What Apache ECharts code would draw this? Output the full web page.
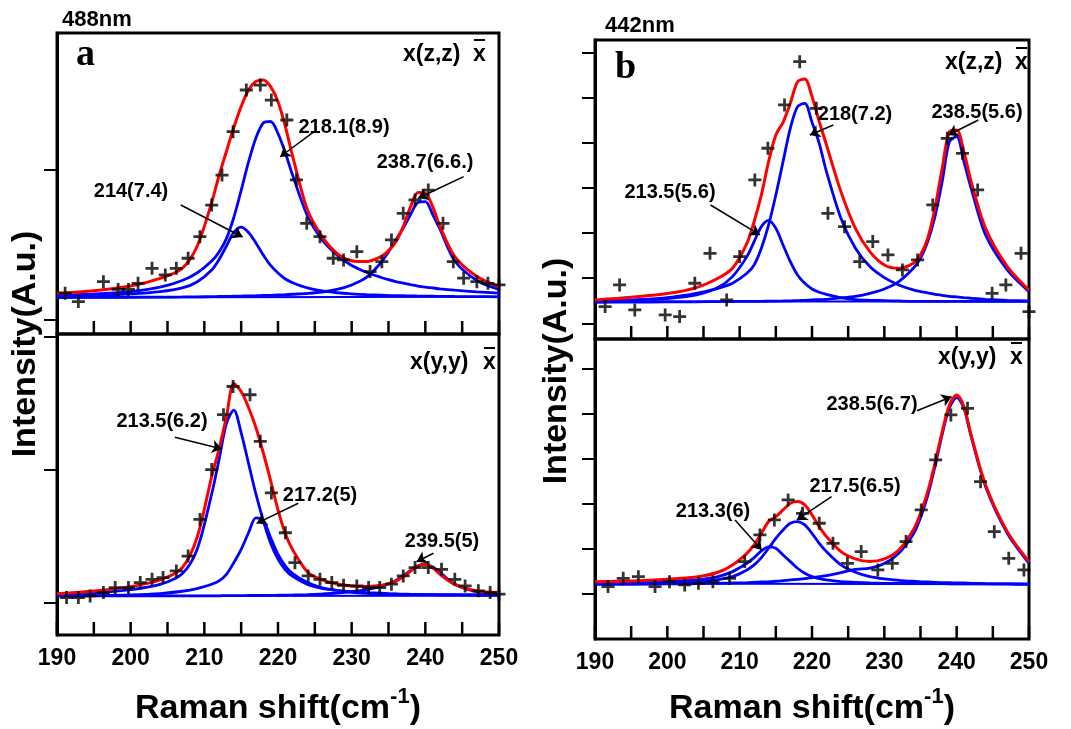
<!DOCTYPE html>
<html>
<head>
<meta charset="utf-8">
<script src="https://cdn.jsdelivr.net/npm/echarts@6/dist/echarts.min.js"></script>
<style>
html, body { margin: 0; padding: 0; background: #fff; }
#chart { width: 1071px; height: 729px; }
</style>
</head>
<body>
<div id="chart"></div>
<script>
const fitX = [190, 195, 200, 204, 207, 209, 211, 212, 213, 214, 215, 216, 217, 218, 219, 220, 221, 222,
  224, 226, 228, 230, 232, 234, 235, 236, 237, 238, 239, 240, 241, 242, 244, 247, 250];
const baseX = [190, 250];
const xTickVals = [190, 195, 200, 205, 210, 215, 220, 225, 230, 235, 240, 245, 250];

// ---- 488nm, x(z,z)x
const aTopPtsX = [191.1, 192.9, 196.3, 198.3, 199.7, 201.0, 202.9, 204.7, 206.2, 207.8, 209.4, 211.0, 212.4, 213.9,
  215.7, 217.6, 219.1, 221.2, 222.5, 223.9, 225.7, 227.5, 228.9, 230.7, 232.5, 234.1, 235.4, 237.0, 238.6, 240.4,
  242.4, 243.8, 245.2, 247.0, 248.5, 250.0];
const aTopPtsY = [17.5, 11.9, 25.2, 20, 20, 24.1, 34.1, 29.7, 34.1, 40.8, 55.2, 76.3, 96.3, 125.2, 153, 156.3, 146.3,
  133, 93, 64.1, 55.2, 40.8, 39.7, 45.2, 31.9, 38.5, 53, 70.8, 79.7, 86.3, 64.1, 38.5, 27.5, 25.2, 24.1, 23];
const aTopSum = [17.4, 19.2, 22.3, 27.4, 34.1, 48.6, 78, 96, 112, 128, 142, 153, 158.6, 159.7, 155.2, 145.2, 128.6, 108.6,
  73, 55.2, 44.1, 39.2, 38.6, 41.9, 45.9, 51.9, 61.9, 75.2, 84.6, 84.1, 75.2, 61.9, 41.9, 28.6, 21.9];
const aTop218 = [16, 17, 18.5, 21.5, 26, 31, 39, 45, 54, 68, 86, 105, 121, 131, 132, 124, 111, 96,
  69, 53, 43, 36, 31.5, 28, 26.5, 25.2, 24.2, 23.2, 22.3, 21.6, 21, 20.4, 19.5, 18.4, 17.6];
const aTop214 = [15.5, 16, 17, 18.5, 21, 25, 33, 40, 49, 58, 61.5, 58, 51, 43, 36, 31, 27, 24.5,
  21, 19, 17.8, 17, 16.5, 16.2, 16, 15.9, 15.8, 15.7, 15.6, 15.5, 15.5, 15.4, 15.3, 15.2, 15.1];
const aTop239 = [14.6, 14.7, 14.8, 14.9, 15, 15.1, 15.2, 15.3, 15.4, 15.5, 15.6, 15.7, 15.8, 16, 16.1, 16.3, 16.5, 16.8,
  17.4, 18.3, 20, 23, 28, 38, 45, 53, 61, 70, 78, 78.5, 70, 60, 39, 26, 20];
const aTopBase = [14.6, 15.1];
const aTopTicks = [0, 100];

// ---- 488nm, x(y,y)x
const aBotPtsX = [191.3, 192.9, 194.5, 196.3, 197.9, 199.7, 201.3, 202.9, 204.4, 206.2, 207.8, 209.4, 211.0, 212.6,
  213.9, 216.2, 217.6, 219.1, 221.0, 222.3, 224.1, 225.7, 227.3, 228.9, 230.7, 232.3, 233.8, 235.4, 237.0, 238.6,
  240.4, 242.2, 244.0, 245.4, 247.2, 248.8, 250.0];
const aBotPtsY = [4.05, 4.05, 5.3, 7.8, 11.6, 11.6, 15.3, 17.8, 19.1, 24.1, 35.3, 62.8, 100.3, 141.6, 162.8, 156.6,
  121.6, 82.8, 52.8, 30.3, 20.3, 17.8, 15.3, 13.3, 12.8, 11.6, 11.6, 14.1, 20.3, 26.6, 26.6, 25.3, 17.8, 12.8, 9.1,
  7.8, 6.6];
const aBotSum = [7, 9, 12.3, 17.3, 26.5, 49, 95, 116, 140, 165, 159, 147, 132, 113, 92, 70, 52, 39.8,
  23.3, 17.3, 14.3, 12.8, 12.3, 13.3, 14.5, 16.5, 19.8, 24, 27.8, 29, 26.5, 21.5, 14, 9, 7.8];
const aBot213 = [6, 7.5, 10, 14, 22, 40, 82, 108, 135, 145, 128, 105, 82, 62, 45, 33, 25, 20,
  14, 11, 9.5, 8.5, 7.8, 7.3, 7, 6.8, 6.6, 6.5, 6.4, 6.3, 6.3, 6.2, 6.2, 6.1, 6.1];
const aBot217 = [5.3, 5.55, 6.05, 7.05, 8.8, 10.8, 14.05, 16.55, 21.55, 30.3, 40.3, 52.8, 64.05, 62.3, 49.05, 36.55,
  27.8, 22.05, 15.3, 11.3, 9.3, 8.05, 7.3, 6.8, 6.55, 6.55, 6.3, 6.3, 6.3, 6.2, 6.2, 6.1, 6.1, 6, 6];
const aBot239 = [5.3, 5.3, 5.3, 5.3, 5.3, 5.4, 5.4, 5.4, 5.5, 5.5, 5.5, 5.6, 5.6, 5.7, 5.7, 5.8, 5.9, 6,
  6.3, 6.8, 7.5, 8.5, 10, 12.5, 14.5, 17, 20.5, 24.5, 28, 29, 27, 23, 14, 8.3, 6.5];
const aBotBase = [5.3, 5.5];
const aBotTicks = [0, 100, 200];

// ---- 442nm, x(z,z)x
const bTopPtsX = [191.4, 193.4, 195.5, 199.7, 201.7, 203.8, 205.9, 208.2, 210.0, 212.1, 213.9, 216.2, 218.3, 220.6,
  222.2, 224.5, 226.6, 228.4, 230.5, 232.5, 234.6, 236.7, 238.7, 240.8, 242.9, 244.9, 246.8, 248.9, 250.0];
const bTopPtsY = [36.9, 84.9, 29.5, 18.5, 14.8, 88.6, 155, 51.7, 147.6, 317.3, 387.5, 483.4, 579.3, 476, 243.5, 214,
  136.5, 180.8, 151.3, 118.1, 140.2, 262, 409.6, 376.4, 295.2, 66.4, 84.9, 155, 26];
const bTopSum = [51.7, 57.6, 65.7, 79, 99.6, 121.8, 177.1, 225.1, 284.1, 357.9, 417, 445, 487.1, 535, 541, 502, 446.5,
  394.8, 291.5, 210.3, 158.7, 129.2, 121.8, 132.8, 151.3, 188.2, 254.6, 343.2, 424.4, 428, 380.1, 313.7, 210.3, 125.5,
  73.8];
const bTop218 = [48, 51.7, 56.8, 66.4, 77.5, 88.6, 110.7, 129.2, 166, 217.7, 284.1, 357.9, 431.7, 479.7, 487.1, 445,
  398.5, 335.8, 232.5, 166, 125.5, 101.1, 84.9, 73.8, 70.1, 67.2, 64.2, 62, 59.8, 58.3, 56.8, 55.4, 53.1, 50.9, 49.4];
const bTop213 = [48.7, 50.9, 54.6, 62.7, 79, 103.3, 147.6, 180.8, 214, 228, 210.3, 173.4, 136.5, 107, 88.6, 76, 68.6,
  64.2, 56.8, 52.4, 50.9, 50.2, 49.4, 48.7, 48.7, 48.6, 48.6, 48.5, 48.5, 48.5, 48.4, 48.4, 48.4, 48.3, 48.3];
const bTop238 = [46.5, 47, 47.2, 47.6, 48, 48.2, 48.5, 48.6, 48.7, 48.9, 49.1, 49.4, 49.8, 50.2, 50.9, 51.7, 52.4, 53.1,
  56.1, 59.8, 66.4, 76, 92.3, 121.8, 143.9, 180.8, 236.2, 313.7, 402.2, 413.3, 357.9, 298.9, 195.6, 118.1, 70.1];
const bTopBase = [48, 48];
const bTopTicks = [0, 100, 200, 300, 400, 500, 600];

// ---- 442nm, x(y,y)x
const bBotPtsX = [191.8, 193.9, 196.0, 198.3, 200.3, 202.4, 204.3, 206.3, 208.6, 210.7, 212.8, 214.8, 216.7, 218.7,
  221.0, 222.9, 224.9, 226.8, 229.1, 231.1, 233.0, 235.1, 237.1, 239.2, 241.5, 243.3, 245.2, 247.2, 249.3];
const bBotPtsY = [14.8, 33.3, 37, 14.8, 25.9, 18.5, 22.2, 25.9, 33.3, 70.4, 129.6, 163, 207.4, 177.8, 155.6, 111.1,
  66.7, 92.6, 51.9, 66.7, 114.8, 185.2, 296.3, 396.3, 411.1, 248.1, 137, 77.8, 51.9];
const bBotSum = [25.9, 27.4, 31.1, 36.3, 46.7, 63, 88.9, 107.4, 133.3, 159.3, 170.4, 185.2, 200, 203.7, 196.3, 174.1,
  148.1, 125.9, 92.6, 76.3, 70.4, 76.3, 96.3, 140.7, 177.8, 225.9, 288.9, 359.3, 418.5, 440.7, 414.8, 351.9, 240.7,
  137, 70.4];
const bBot213 = [22.2, 23.7, 25.9, 29.6, 37, 48.1, 66.7, 79.3, 94.1, 103, 100, 85.2, 70.4, 55.6, 44.4, 37, 32.6, 29.6,
  25.9, 24.4, 23, 22.2, 22, 21.8, 21.6, 21.5, 21.4, 21.3, 21.2, 21.1, 21, 20.9, 20.8, 20.7, 20.6];
const bBot217 = [21.5, 22.2, 23.7, 25.9, 30.4, 37, 51.9, 63, 79.3, 100, 122.2, 140.7, 155.6, 159.3, 151.9, 133.3, 111.1,
  92.6, 63, 46.7, 37, 31.9, 28.9, 26.7, 25.9, 25.2, 24.4, 23.7, 23.7, 23, 23, 22.2, 21.5, 20.7, 20];
const bBot238 = [20, 20, 20.7, 21.5, 22.2, 23, 23.7, 24.4, 25.2, 25.9, 26.7, 28.1, 29.6, 31.1, 32.6, 34.8, 37, 39.3,
  45.9, 53.3, 56, 66, 88.9, 131.1, 168.1, 217, 281.5, 353.3, 412.6, 434.8, 411.1, 348.1, 237, 133.3, 66.7];
const bBotBase = [22, 20];
const bBotTicks = [0, 100, 200, 300, 400, 500];

// peak labels and the arrows pointing at them, [from, to] in data units
const aTopNotes = ['214(7.4)', '218.1(8.9)', '238.7(6.6.)'];
const aTopArrows = [[[206.8, 76.3], [215.2, 55]], [[224.9, 125.2], [220.3, 108.5]], [[245.2, 95.2], [239.0, 80.8]]];
const aBotNotes = ['213.5(6.2)', '217.2(5)', '239.5(5)'];
const aBotArrows = [[[206.0, 124.6], [212.4, 115.8]], [[222.75, 75], [217.1, 59.9]], [[241.1, 37.4], [238.8, 31]]];
const bTopNotes = ['213.5(5.6)', '218(7.2)', '238.5(5.6)'];
const bTopArrows = [[[205.97, 261.9], [212.8, 195.5]], [[222.95, 439], [219.7, 416.9]], [[243, 450], [238.85, 416.9]]];
const bBotNotes = ['213.3(6)', '217.5(6.5)', '238.5(6.7)'];
const bBotArrows = [[[209.36, 162.9], [213.05, 96.2]], [[222.7, 214.7], [217.9, 162.9]], [[234.5, 405.8], [239.3, 436.9]]];

const RED = '#ff0000';
const BLUE = '#0000ff';
const FONT = '"Liberation Sans", Arial, sans-serif';
const PLUS = 'path://M-1.5,-7L1.5,-7L1.5,-1.5L7,-1.5L7,1.5L1.5,1.5L1.5,7L-1.5,7L-1.5,1.5L-7,1.5L-7,-1.5L-1.5,-1.5Z';

const pair = (xs, ys) => xs.map((x, i) => [x, ys[i]]);

const panels = [
  { grid: { left: 57, top: 33, width: 442, height: 301 }, ymin: -9.7, ymax: 191, ticks: aTopTicks, bottom: false,
    ptsX: aTopPtsX, ptsY: aTopPtsY, base: aTopBase, comps: [aTop218, aTop214, aTop239], sum: aTopSum, arrows: aTopArrows },
  { grid: { left: 57, top: 334, width: 442, height: 301 }, ymin: -24.1, ymax: 202.3, ticks: aBotTicks, bottom: true,
    ptsX: aBotPtsX, ptsY: aBotPtsY, base: aBotBase, comps: [aBot213, aBot217, aBot239], sum: aBotSum, arrows: aBotArrows },
  { grid: { left: 595, top: 40, width: 434, height: 299 }, ymin: -34.8, ymax: 627.2, ticks: bTopTicks, bottom: false,
    ptsX: bTopPtsX, ptsY: bTopPtsY, base: bTopBase, comps: [bTop218, bTop213, bTop238], sum: bTopSum, arrows: bTopArrows },
  { grid: { left: 595, top: 339, width: 434, height: 300 }, ymin: -101.6, ymax: 565.1, ticks: bBotTicks, bottom: true,
    ptsX: bBotPtsX, ptsY: bBotPtsY, base: bBotBase, comps: [bBot213, bBot217, bBot238], sum: bBotSum, arrows: bBotArrows }
];

const grids = [], xAxes = [], yAxes = [], series = [];
panels.forEach((p, i) => {
  grids.push(Object.assign({ show: true, borderColor: '#000', borderWidth: 3, backgroundColor: 'transparent',
    outerBoundsMode: 'none', containLabel: false }, p.grid));
  xAxes.push({
    gridIndex: i, type: 'value', min: 190, max: 250, interval: 5, position: 'bottom',
    axisLine: { show: false, onZero: false },
    axisTick: { show: false },
    axisLabel: { show: p.bottom, margin: 12, color: '#000', fontSize: 23, fontWeight: 'bold', fontFamily: FONT,
      showMinLabel: true, showMaxLabel: true, formatter: v => (v % 10 === 0 ? String(v) : '') },
    splitLine: { show: false }
  });
  yAxes.push({
    gridIndex: i, type: 'value', min: p.ymin, max: p.ymax, position: 'left',
    axisLine: { show: true, onZero: false, lineStyle: { color: '#000', width: 3 } },
    axisTick: { show: true, inside: false, length: 13, lineStyle: { color: '#000', width: 2 }, customValues: p.ticks },
    axisLabel: { show: false },
    splitLine: { show: false }
  });
  const common = { xAxisIndex: i, yAxisIndex: i, symbol: 'none', silent: true, animation: false };
  series.push(Object.assign({ type: 'line', data: pair(baseX, p.base), lineStyle: { color: BLUE, width: 2 }, z: 2 }, common));
  p.comps.forEach(c => {
    series.push(Object.assign({ type: 'line', data: pair(fitX, c), smooth: 0.3,
      lineStyle: { color: BLUE, width: 2.8 }, z: 3 }, common));
  });
  series.push(Object.assign({ type: 'line', data: pair(fitX, p.sum), smooth: 0.3,
    lineStyle: { color: RED, width: 3 }, z: 4,
    markLine: {
      silent: true, animation: false, symbol: ['none', 'arrow'], symbolSize: 10,
      label: { show: false }, lineStyle: { color: '#000', width: 1.5, type: 'solid' },
      data: p.arrows.map(a => [{ coord: a[0] }, { coord: a[1] }])
    } }, common));
  series.push({ type: 'scatter', xAxisIndex: i, yAxisIndex: i, data: pair(p.ptsX, p.ptsY), symbol: PLUS,
    symbolSize: 13, itemStyle: { color: '#000' }, silent: true, z: 5, animation: false });
});

function txt(x, y, text, size, align, extra) {
  return Object.assign({ type: 'text', x: x, y: y, silent: true, z: 10,
    style: { text: text, fill: '#000', font: 'bold ' + size + 'px ' + FONT,
      align: align, textAlign: align, verticalAlign: 'middle', textVerticalAlign: 'middle' } }, extra || {});
}
function seg(x1, y1, x2, y2, w) {
  return { type: 'line', silent: true, z: 20, shape: { x1: x1, y1: y1, x2: x2, y2: y2 }, style: { stroke: '#000', lineWidth: w } };
}
const bar = (x1, x2, y) => seg(x1, y, x2, y, 2);

const graphic = [
  txt(62, 20, '488nm', 22, 'left'),
  txt(605, 26, '442nm', 22, 'left'),
  { type: 'text', x: 76, y: 55, silent: true, z: 10,
    style: { text: 'a', fill: '#000', font: 'bold 38px "Liberation Serif", "Times New Roman", serif', align: 'left', verticalAlign: 'middle' } },
  { type: 'text', x: 615, y: 68, silent: true, z: 10,
    style: { text: 'b', fill: '#000', font: 'bold 38px "Liberation Serif", "Times New Roman", serif', align: 'left', verticalAlign: 'middle' } },
  // scattering geometry labels
  txt(403, 55, 'x(z,z)', 23, 'left'), txt(473, 55, 'x', 23, 'left'), bar(474, 485, 40),
  txt(410, 363, 'x(y,y)', 23, 'left'), txt(483, 363, 'x', 23, 'left'), bar(484, 495, 348),
  txt(945, 63, 'x(z,z)', 23, 'left'), txt(1015, 63, 'x', 23, 'left'), bar(1016, 1027, 48),
  txt(938, 358, 'x(y,y)', 23, 'left'), txt(1010, 358, 'x', 23, 'left'), bar(1011, 1022, 343),
  // peak labels
  txt(131, 191, aTopNotes[0], 20, 'center'), txt(344, 127, aTopNotes[1], 20, 'center'), txt(425, 162, aTopNotes[2], 20, 'center'),
  txt(162, 421, aBotNotes[0], 20, 'center'), txt(320, 495, aBotNotes[1], 20, 'center'), txt(442, 541, aBotNotes[2], 20, 'center'),
  txt(670, 192, bTopNotes[0], 20, 'center'), txt(855, 114, bTopNotes[1], 20, 'center'), txt(977, 112, bTopNotes[2], 20, 'center'),
  txt(713, 511, bBotNotes[0], 20, 'center'), txt(855, 486, bBotNotes[1], 20, 'center'), txt(872, 404, bBotNotes[2], 20, 'center'),
  // axis titles
  txt(26, 344, 'Intensity(A.u.)', 34, 'center', { rotation: Math.PI / 2 }),
  txt(557, 371, 'Intensity(A.u.)', 34, 'center', { rotation: Math.PI / 2 })
];
[278, 812].forEach(cx => {
  graphic.push({ type: 'text', x: cx, y: 706, silent: true, z: 10,
    style: { text: '{a|Raman shift(cm}{s|-1}{a|)}', align: 'center', verticalAlign: 'middle', fill: '#000',
      rich: {
        a: { fontSize: 34, fontWeight: 'bold', fontFamily: FONT, lineHeight: 40, fill: '#000', verticalAlign: 'bottom' },
        s: { fontSize: 22, fontWeight: 'bold', fontFamily: FONT, lineHeight: 40, fill: '#000', verticalAlign: 'top' }
      } } });
});

// inward x ticks on the bottom edge of each frame, every 5 cm-1
panels.forEach(p => {
  const g = p.grid;
  const yb = g.top + g.height;
  xTickVals.forEach(x => {
    const xp = g.left + (x - 190) / 60 * g.width;
    graphic.push(seg(xp, yb - 1, xp, yb - 13, 2.5));
  });
});

const chart = echarts.init(document.getElementById('chart'), null, { renderer: 'canvas' });
chart.setOption({
  animation: false,
  backgroundColor: '#fff',
  grid: grids,
  xAxis: xAxes,
  yAxis: yAxes,
  series: series,
  graphic: graphic
});
</script>
</body>
</html>
